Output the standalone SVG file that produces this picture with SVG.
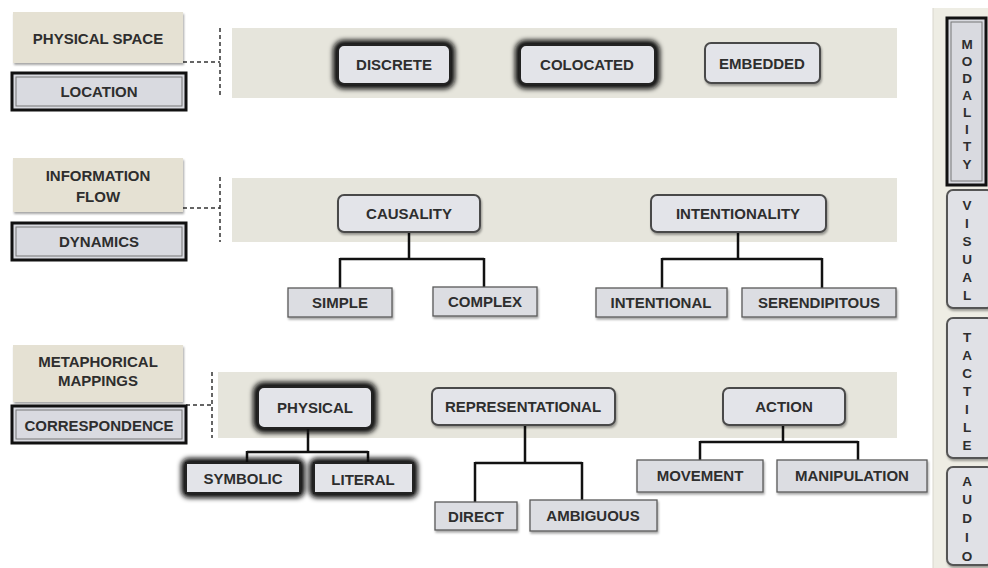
<svg xmlns="http://www.w3.org/2000/svg" width="988" height="568" viewBox="0 0 988 568">
<defs>
<filter id="sh" x="-10%" y="-20%" width="125%" height="150%">
<feDropShadow dx="1" dy="2" stdDeviation="1.2" flood-color="#000" flood-opacity="0.35"/>
</filter>
<filter id="blur" x="-30%" y="-60%" width="160%" height="220%">
<feGaussianBlur stdDeviation="2.8"/>
</filter>
<style>
.band{fill:#e6e5dc}
.lab{fill:#e5e1d3;filter:url(#sh)}
.dbl{fill:#d9dae0;stroke:#111;stroke-width:3}
.dbli{fill:none;stroke:#777;stroke-width:1}
.top{fill:#e3e4e9;stroke:#4a4a4a;stroke-width:2;filter:url(#sh)}
.leaf{fill:#dcdde2;stroke:#5a5a5a;stroke-width:1.3;filter:url(#sh)}
.glow{fill:#111;stroke:#111;stroke-width:10;filter:url(#blur)}
.gbox{fill:#e3e4e9;stroke:#222;stroke-width:2}
.side{fill:#e0e1e6;stroke:#555;stroke-width:2;filter:url(#sh)}
text{font-family:"Liberation Sans",Arial,sans-serif;font-weight:bold;fill:#2e2e2e;text-anchor:middle}
.t{font-size:15px}
.s{font-size:13.5px}
.con{fill:none;stroke:#111;stroke-width:2.5}
.dash{fill:none;stroke:#333;stroke-width:1.5;stroke-dasharray:4 3}
</style>
</defs>
<rect width="988" height="568" fill="#ffffff"/>
<g id="bands">
<rect class="band" x="232" y="28" width="665" height="70"/>
<rect class="band" x="232" y="178" width="665" height="64"/>
<rect class="band" x="218" y="372" width="679" height="66"/>
<rect x="933" y="8" width="55" height="560" fill="#eeede4"/>
<line x1="933" y1="8" x2="933" y2="568" stroke="#d8d6cc" stroke-width="1"/>
</g>
<g id="connectors">
<path class="dash" d="M183 62 H220 M220 28 V96"/>
<path class="dash" d="M183 208 H220 M220 177 V242"/>
<path class="dash" d="M186 405 H212 M212 372 V438"/>
<path class="con" d="M409 232 V259 M340 259 H484 M340 258 V288 M484 258 V287"/>
<path class="con" d="M738 232 V259 M662 259 H822 M662 258 V288 M822 258 V288"/>
<path class="con" d="M308 428 V452 M247 452 H368 M247 451 V463 M368 451 V463"/>
<path class="con" d="M525 425 V463 M475 463 H582 M475 462 V502 M582 462 V500"/>
<path class="con" d="M783 425 V442 M700 442 H858 M700 441 V460 M858 441 V460"/>
</g>
<g id="physical-space"><rect class="lab" x="13" y="12" width="170" height="51"/><text class="t" x="98" y="44">PHYSICAL SPACE</text></g>
<g id="location"><rect class="dbl" x="12" y="73" width="174" height="37"/><rect class="dbli" x="16" y="77" width="166" height="29"/><text class="t" x="99" y="97">LOCATION</text></g>
<g id="discrete"><rect class="glow" x="338" y="45" width="112" height="39" rx="6"/><rect class="gbox" x="338" y="45" width="112" height="39" rx="6"/><text class="t" x="394" y="70">DISCRETE</text></g>
<g id="colocated"><rect class="glow" x="520" y="45" width="135" height="39" rx="6"/><rect class="gbox" x="520" y="45" width="135" height="39" rx="6"/><text class="t" x="587" y="70">COLOCATED</text></g>
<g id="embedded"><rect class="top" x="705" y="43" width="115" height="40" rx="6"/><text class="t" x="762" y="69">EMBEDDED</text></g>

<g id="information-flow"><rect class="lab" x="13" y="158" width="170" height="54"/><text class="t" x="98" y="181">INFORMATION</text><text class="t" x="98" y="202">FLOW</text></g>
<g id="dynamics"><rect class="dbl" x="12" y="223" width="174" height="37"/><rect class="dbli" x="16" y="227" width="166" height="29"/><text class="t" x="99" y="247">DYNAMICS</text></g>
<g id="causality"><rect class="top" x="338" y="195" width="142" height="37" rx="6"/><text class="t" x="409" y="219">CAUSALITY</text></g>
<g id="intentionality"><rect class="top" x="651" y="195" width="175" height="37" rx="6"/><text class="t" x="738" y="219">INTENTIONALITY</text></g>
<g id="simple"><rect class="leaf" x="288" y="288" width="104" height="29"/><text class="t" x="340" y="308">SIMPLE</text></g>
<g id="complex"><rect class="leaf" x="433" y="287" width="104" height="29"/><text class="t" x="485" y="307">COMPLEX</text></g>
<g id="intentional"><rect class="leaf" x="596" y="288" width="131" height="29"/><text class="t" x="661" y="308">INTENTIONAL</text></g>
<g id="serendipitous"><rect class="leaf" x="742" y="288" width="154" height="29"/><text class="t" x="819" y="308">SERENDIPITOUS</text></g>

<g id="metaphorical-mappings"><rect class="lab" x="13" y="345" width="170" height="57"/><text class="t" x="98" y="367">METAPHORICAL</text><text class="t" x="98" y="386">MAPPINGS</text></g>
<g id="correspondence"><rect class="dbl" x="12" y="406" width="174" height="37"/><rect class="dbli" x="16" y="410" width="166" height="29"/><text class="t" x="99" y="431">CORRESPONDENCE</text></g>
<g id="physical"><rect class="glow" x="258" y="387" width="114" height="41" rx="6"/><rect class="gbox" x="258" y="387" width="114" height="41" rx="6"/><text class="t" x="315" y="413">PHYSICAL</text></g>
<g id="representational"><rect class="top" x="432" y="388" width="183" height="37" rx="6"/><text class="t" x="523" y="412">REPRESENTATIONAL</text></g>
<g id="action"><rect class="top" x="723" y="388" width="122" height="37" rx="6"/><text class="t" x="784" y="412">ACTION</text></g>
<g id="symbolic"><rect class="glow" x="186" y="463" width="114" height="30" rx="3"/><rect class="gbox" x="186" y="463" width="114" height="30"/><text class="t" x="243" y="484">SYMBOLIC</text></g>
<g id="literal"><rect class="glow" x="314" y="463" width="99" height="30" rx="3"/><rect class="gbox" x="314" y="463" width="99" height="30"/><text class="t" x="363" y="485">LITERAL</text></g>
<g id="direct"><rect class="leaf" x="435" y="502" width="82" height="28"/><text class="t" x="476" y="522">DIRECT</text></g>
<g id="ambiguous"><rect class="leaf" x="530" y="500" width="127" height="31"/><text class="t" x="593" y="521">AMBIGUOUS</text></g>
<g id="movement"><rect class="leaf" x="637" y="460" width="126" height="32"/><text class="t" x="700" y="481">MOVEMENT</text></g>
<g id="manipulation"><rect class="leaf" x="777" y="460" width="150" height="32"/><text class="t" x="852" y="481">MANIPULATION</text></g>

<g id="modality"><rect class="dbl" x="947" y="18" width="39" height="167"/><rect class="dbli" x="951" y="22" width="31" height="159"/>
<text class="s" x="967" y="49">M</text><text class="s" x="967" y="66">O</text><text class="s" x="967" y="83">D</text><text class="s" x="967" y="100">A</text><text class="s" x="967" y="117">L</text><text class="s" x="967" y="134">I</text><text class="s" x="967" y="151">T</text><text class="s" x="967" y="169">Y</text></g>
<g id="visual"><rect class="side" x="947" y="190" width="46" height="118" rx="6"/>
<text class="s" x="967" y="210">V</text><text class="s" x="967" y="228">I</text><text class="s" x="967" y="246">S</text><text class="s" x="967" y="264">U</text><text class="s" x="967" y="282">A</text><text class="s" x="967" y="300">L</text></g>
<g id="tactile"><rect class="side" x="947" y="318" width="46" height="140" rx="6"/>
<text class="s" x="967" y="342">T</text><text class="s" x="967" y="360">A</text><text class="s" x="967" y="378">C</text><text class="s" x="967" y="396">T</text><text class="s" x="967" y="414">I</text><text class="s" x="967" y="432">L</text><text class="s" x="967" y="450">E</text></g>
<g id="audio"><rect class="side" x="947" y="467" width="46" height="98" rx="6"/>
<text class="s" x="967" y="486">A</text><text class="s" x="967" y="504">U</text><text class="s" x="967" y="523">D</text><text class="s" x="967" y="542">I</text><text class="s" x="967" y="561">O</text></g>
</svg>
